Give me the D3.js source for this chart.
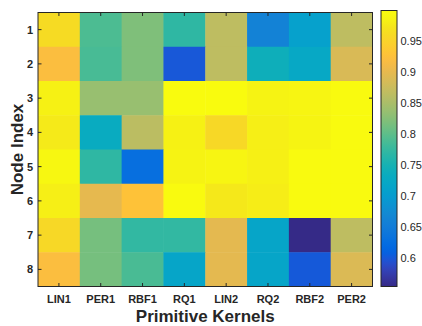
<!DOCTYPE html>
<html><head><meta charset="utf-8">
<script src="https://cdn.jsdelivr.net/npm/d3@7"></script>
<style>body{margin:0;background:#fff;}svg{display:block;font-family:"Liberation Sans",Arial,sans-serif;}</style>
</head><body><svg id="c" width="422" height="326"></svg>
<script>
const kernels = ["LIN1","PER1","RBF1","RQ1","LIN2","RQ2","RBF2","PER2"];
const nodes = ["1","2","3","4","5","6","7","8"];
const row1 = [0.962,0.790,0.820,0.770,0.866,0.659,0.709,0.866];
const row2 = [0.922,0.787,0.820,0.599,0.866,0.740,0.723,0.888];
const row3 = [0.984,0.837,0.837,1.000,1.000,0.986,0.990,0.998];
const row4 = [0.978,0.731,0.864,0.984,0.958,0.982,0.988,0.998];
const row5 = [0.993,0.770,0.627,0.986,0.990,0.983,0.998,0.998];
const row6 = [0.982,0.900,0.929,0.998,0.976,0.980,0.998,0.998];
const row7 = [0.958,0.815,0.772,0.772,0.898,0.716,0.553,0.866];
const row8 = [0.922,0.815,0.788,0.716,0.898,0.716,0.600,0.890];
const values = [row1,row2,row3,row4,row5,row6,row7,row8];
const cbTicks = [0.6,0.65,0.7,0.75,0.8,0.85,0.9,0.95];

// parula colormap (subsampled)
const parula = [
[0.2081,0.1663,0.5292],[0.2123,0.2138,0.6270],[0.1959,0.2645,0.7279],[0.1253,0.3242,0.8303],
[0.0117,0.3875,0.8820],[0.0165,0.4266,0.8786],[0.0498,0.4586,0.8641],[0.0723,0.4887,0.8467],
[0.0793,0.5200,0.8312],[0.0641,0.5570,0.8240],[0.0343,0.5966,0.8199],[0.0239,0.6287,0.8038],
[0.0228,0.6535,0.7768],[0.0384,0.6743,0.7436],[0.0843,0.6928,0.7062],[0.1453,0.7098,0.6646],
[0.2178,0.7250,0.6193],[0.3022,0.7376,0.5712],[0.3953,0.7459,0.5244],[0.4871,0.7491,0.4840],
[0.5709,0.7485,0.4494],[0.6473,0.7456,0.4188],[0.7184,0.7411,0.3905],[0.7858,0.7356,0.3633],
[0.8507,0.7299,0.3360],[0.9139,0.7258,0.3063],[0.9739,0.7314,0.2666],[0.9990,0.7653,0.2164],
[0.9880,0.8066,0.1794],[0.9697,0.8481,0.1475],[0.9589,0.8949,0.1132],[0.9661,0.9514,0.0755],
[0.9763,0.9831,0.0538]];
const parulaHex = parula.map(c=>d3.rgb(c[0]*255,c[1]*255,c[2]*255).formatHex());
const interp = d3.piecewise(d3.interpolateRgb, parulaHex);

const flat = values.flat();
const vmin = d3.min(flat), vmax = d3.max(flat);
const color = d3.scaleSequential(interp).domain([vmin, vmax]);

const svg = d3.select("#c");
const L=38, R=372.5, T=12.5, B=286.5;
const x = d3.scaleBand().domain(kernels).range([L,R]);
const y = d3.scaleBand().domain(nodes).range([T,B]);
const axc = "#262626";

svg.append("g").selectAll("g").data(values).join("g")
  .each(function(row,i){
    d3.select(this).selectAll("rect").data(row).join("rect")
      .attr("x",(d,j)=>x(kernels[j]))
      .attr("y",y(nodes[i]))
      .attr("width",x.bandwidth()+0.5)
      .attr("height",y.bandwidth()+0.5)
      .attr("fill",d=>color(d));
  });

// box
svg.append("rect").attr("x",L).attr("y",T).attr("width",R-L).attr("height",B-T)
  .attr("fill","none").attr("stroke",axc).attr("stroke-width",1);

const tl = 3.5;
const xc = d=>x(d)+x.bandwidth()/2;
const g = svg.append("g").attr("stroke",axc).attr("stroke-width",1);
kernels.forEach(k=>{
  g.append("line").attr("x1",xc(k)).attr("x2",xc(k)).attr("y1",B).attr("y2",B-tl);
  g.append("line").attr("x1",xc(k)).attr("x2",xc(k)).attr("y1",T).attr("y2",T+tl);
});
const yc = d=>y(d)+y.bandwidth()/2;
nodes.forEach(n=>{
  g.append("line").attr("y1",yc(n)).attr("y2",yc(n)).attr("x1",L).attr("x2",L+tl);
  g.append("line").attr("y1",yc(n)).attr("y2",yc(n)).attr("x1",R).attr("x2",R-tl);
});

svg.append("g").selectAll("text").data(kernels).join("text")
  .attr("x",xc).attr("y",303).attr("text-anchor","middle")
  .attr("font-size",11).attr("font-weight","bold").attr("fill",axc).text(d=>d);
svg.append("g").selectAll("text").data(nodes).join("text")
  .attr("x",33).attr("y",d=>yc(d)+4).attr("text-anchor","end")
  .attr("font-size",11).attr("font-weight","bold").attr("fill",axc).text(d=>d);

svg.append("text").attr("x",(L+R)/2).attr("y",322).attr("text-anchor","middle")
  .attr("font-size",17).attr("font-weight","bold").attr("fill",axc).text("Primitive Kernels");
svg.append("text").attr("transform",`translate(23,${(T+B)/2}) rotate(-90)`).attr("text-anchor","middle")
  .attr("font-size",17).attr("font-weight","bold").attr("fill",axc).text("Node Index");

// colorbar
const cbX=381, cbW=16, cbT=10.5, cbB=286.5;
const cy = d3.scaleLinear().domain([vmin,vmax]).range([cbB,cbT]);
const defs = svg.append("defs");
const grad = defs.append("linearGradient").attr("id","cbg").attr("x1","0").attr("y1","1").attr("x2","0").attr("y2","0");
d3.range(0,1.0001,0.02).forEach(t=>{
  grad.append("stop").attr("offset",t).attr("stop-color",color(vmin+t*(vmax-vmin)));
});
svg.append("rect").attr("x",cbX).attr("y",cbT).attr("width",cbW).attr("height",cbB-cbT)
  .attr("fill","url(#cbg)").attr("stroke",axc).attr("stroke-width",1);
const cbAxis = d3.axisRight(cy).tickValues(cbTicks).tickSize(0).tickPadding(3.5).tickFormat(d3.format(""));
const ca = svg.append("g").attr("transform",`translate(${cbX+cbW},0)`).call(cbAxis);
ca.select(".domain").remove();
ca.selectAll("text").attr("font-size",11).attr("fill",axc).attr("font-family","Liberation Sans, Arial, sans-serif");
cbTicks.forEach(v=>{
  g.append("line").attr("x1",cbX+cbW).attr("x2",cbX+cbW-3).attr("y1",cy(v)).attr("y2",cy(v));
});
</script></body></html>
